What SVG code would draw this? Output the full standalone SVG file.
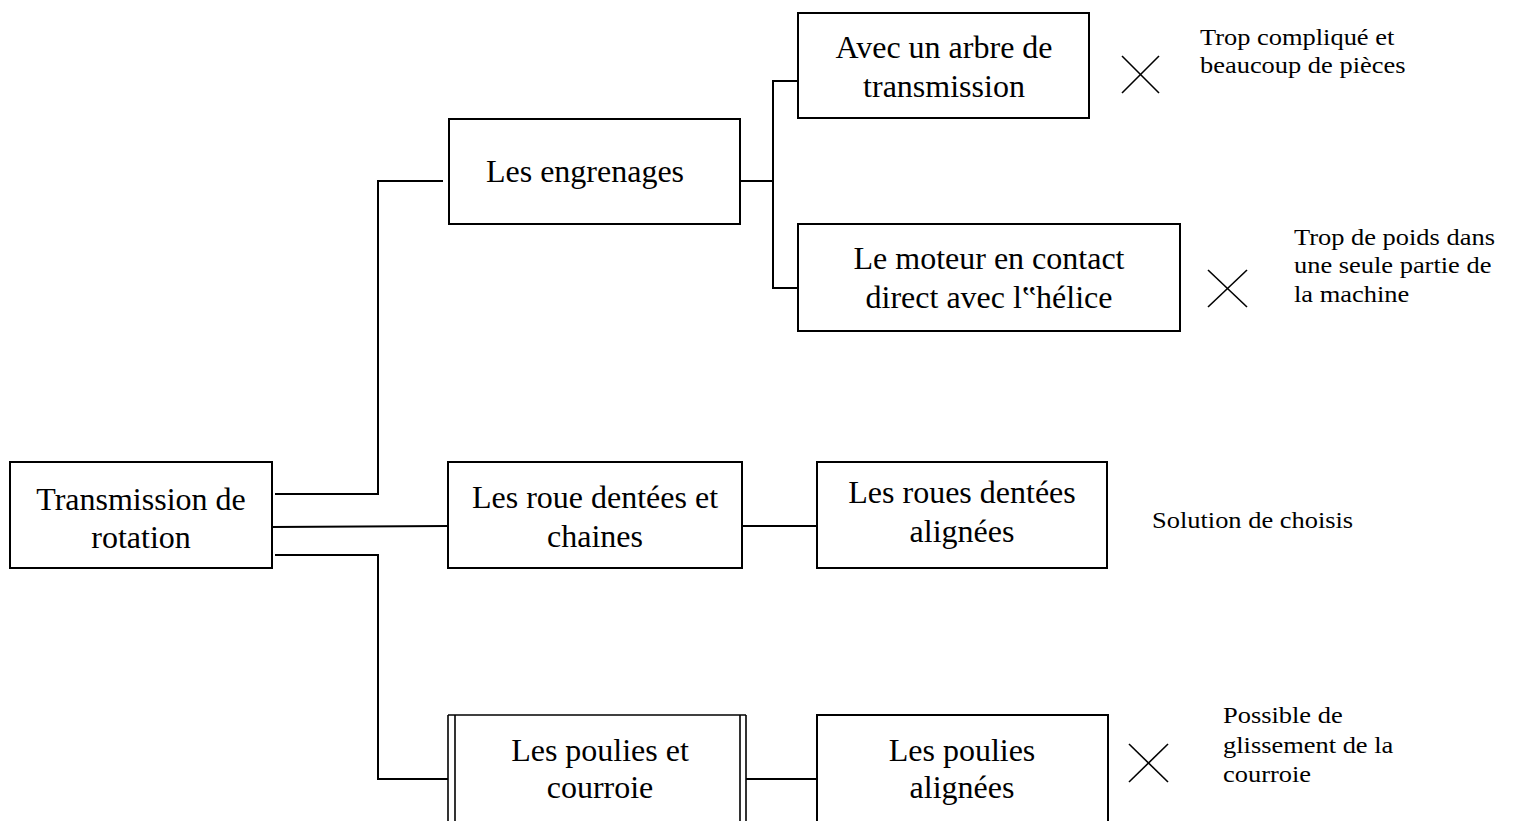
<svg xmlns="http://www.w3.org/2000/svg" width="1513" height="821" viewBox="0 0 1513 821">
  <style>
    .box { fill: #ffffff; stroke: #000000; stroke-width: 2; }
    .thin { fill: none; stroke: #000000; stroke-width: 1.6; }
    .wire { fill: none; stroke: #000000; stroke-width: 2; }
    .cross { stroke: #000000; stroke-width: 1.6; }
    .lbl { font-family: "Liberation Serif", "Times New Roman", serif; font-size: 32px; fill: #000000; text-anchor: middle; }
    .note { font-family: "Liberation Serif", "Times New Roman", serif; font-size: 23px; fill: #000000; }
  </style>
  <rect width="1513" height="821" fill="#ffffff"/>

  <!-- connectors -->
  <g id="connectors">
    <polyline class="wire" points="275,494 378,494 378,181 443,181"/>
    <line class="wire" x1="272" y1="527" x2="448" y2="526"/>
    <polyline class="wire" points="275,555 378,555 378,779 448,779"/>
    <line class="wire" x1="735" y1="181" x2="773" y2="181"/>
    <polyline class="wire" points="798,81 773,81 773,288 798,288"/>
    <line class="wire" x1="742" y1="526" x2="817" y2="526"/>
    <line class="wire" x1="746" y1="779" x2="817" y2="779"/>
  </g>

  <g id="root">
    <rect class="box" x="10" y="462" width="262" height="106"/>
    <text class="lbl" x="141" y="510">Transmission de</text>
    <text class="lbl" x="141" y="548">rotation</text>
  </g>

  <g id="engrenages">
    <rect class="box" x="449" y="119" width="291" height="105"/>
    <text class="lbl" x="585" y="182">Les engrenages</text>
  </g>

  <g id="arbre">
    <rect class="box" x="798" y="13" width="291" height="105"/>
    <text class="lbl" x="944" y="58">Avec un arbre de</text>
    <text class="lbl" x="944" y="97">transmission</text>
  </g>

  <g id="moteur">
    <rect class="box" x="798" y="224" width="382" height="107"/>
    <text class="lbl" x="989" y="269">Le moteur en contact</text>
    <text class="lbl" x="989" y="308">direct avec l‟hélice</text>
  </g>

  <g id="roue-chaines">
    <rect class="box" x="448" y="462" width="294" height="106"/>
    <text class="lbl" x="595" y="508">Les roue dentées et</text>
    <text class="lbl" x="595" y="547">chaines</text>
  </g>

  <g id="roues-alignees">
    <rect class="box" x="817" y="462" width="290" height="106"/>
    <text class="lbl" x="962" y="503">Les roues dentées</text>
    <text class="lbl" x="962" y="542">alignées</text>
  </g>

  <g id="poulies-courroie">
    <rect x="448" y="715" width="298" height="120" fill="#ffffff"/>
    <line class="thin" x1="448" y1="715" x2="746" y2="715"/>
    <line class="thin" x1="448" y1="715" x2="448" y2="830"/>
    <line class="thin" x1="455" y1="715" x2="455" y2="830"/>
    <line class="thin" x1="740" y1="715" x2="740" y2="830"/>
    <line class="thin" x1="746" y1="715" x2="746" y2="830"/>
    <text class="lbl" x="600" y="761">Les poulies et</text>
    <text class="lbl" x="600" y="798">courroie</text>
  </g>

  <g id="poulies-alignees">
    <rect class="box" x="817" y="715" width="291" height="120"/>
    <text class="lbl" x="962" y="761">Les poulies</text>
    <text class="lbl" x="962" y="798">alignées</text>
  </g>

  <!-- rejection marks and remarks; remark text is set slightly widened -->
  <g id="note-arbre">
    <line class="cross" x1="1122" y1="56" x2="1159" y2="93"/>
    <line class="cross" x1="1159" y1="56" x2="1122" y2="93"/>
    <g transform="matrix(1.15 0 0 1 -180 0)">
      <text class="note" x="1200" y="45">Trop compliqué et</text>
      <text class="note" x="1200" y="73">beaucoup de pièces</text>
    </g>
  </g>

  <g id="note-moteur">
    <line class="cross" x1="1208" y1="270" x2="1247" y2="307"/>
    <line class="cross" x1="1247" y1="270" x2="1208" y2="307"/>
    <g transform="matrix(1.15 0 0 1 -194.1 0)">
      <text class="note" x="1294" y="245">Trop de poids dans</text>
      <text class="note" x="1294" y="273">une seule partie de</text>
      <text class="note" x="1294" y="302">la machine</text>
    </g>
  </g>

  <g id="note-roues">
    <g transform="matrix(1.15 0 0 1 -172.8 0)">
      <text class="note" x="1152" y="528">Solution de choisis</text>
    </g>
  </g>

  <g id="note-poulies">
    <line class="cross" x1="1129" y1="744" x2="1168" y2="782"/>
    <line class="cross" x1="1168" y1="744" x2="1129" y2="782"/>
    <g transform="matrix(1.15 0 0 1 -183.45 0)">
      <text class="note" x="1223" y="723">Possible de</text>
      <text class="note" x="1223" y="753">glissement de la</text>
      <text class="note" x="1223" y="782">courroie</text>
    </g>
  </g>
</svg>
